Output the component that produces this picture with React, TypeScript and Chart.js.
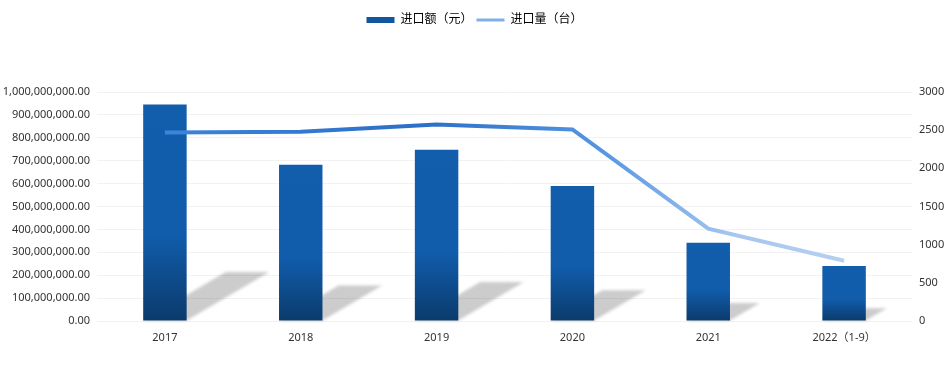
import React, { useEffect, useRef } from "react";
import { Chart, registerables } from "chart.js";

Chart.register(...registerables);

const categories = ["2017", "2018", "2019", "2020", "2021", "2022（1-9）"];
const importValue = [945000000, 682000000, 748000000, 590000000, 342000000, 240000000];
const importQty = [2470, 2480, 2575, 2510, 1210, 790];
const valueLabel = "进口额（元）";
const qtyLabel = "进口量（台）";

const FONT = "'Noto Sans', 'Noto Sans CJK SC', sans-serif";

const shadowPlugin = {
  id: "barShadow",
  beforeDatasetsDraw(chart: any) {
    const meta = chart.getDatasetMeta(0);
    const ctx = chart.ctx;
    ctx.save();
    ctx.filter = "blur(1.5px)";
    ctx.fillStyle = "rgba(0,0,0,0.2)";
    meta.data.forEach((el: any) => {
      const { x, y, base, width } = el.getProps(["x", "y", "base", "width"], true);
      const h = base - y;
      const sh = h * 0.225;
      const shift = sh * 1.7;
      const l = x - width / 2;
      const r = x + width / 2;
      ctx.beginPath();
      ctx.moveTo(l, base);
      ctx.lineTo(r, base);
      ctx.lineTo(r + shift, base - sh);
      ctx.lineTo(l + shift, base - sh);
      ctx.closePath();
      ctx.fill();
    });
    ctx.restore();
  },
};

const legendSpacePlugin = {
  id: "legendSpace",
  beforeInit(chart: any) {
    const legend = chart.legend;
    if (!legend) return;
    const orig = legend.fit;
    legend.fit = function () {
      orig.call(this);
      this.height = 82;
    };
  },
};

export default function App() {
  const ref = useRef<HTMLCanvasElement>(null);
  useEffect(() => {
    const canvas = ref.current!;
    const lineGrad = (chart: any) => {
      const ca = chart.chartArea;
      if (!ca) return "#3d86dc";
      const g = chart.ctx.createLinearGradient(ca.left, 0, ca.right, 0);
      g.addColorStop(0, "#3f8be0");
      g.addColorStop(0.4, "#2c6fc6");
      g.addColorStop(0.62, "#5596e3");
      g.addColorStop(0.78, "#a6c6ef");
      g.addColorStop(1, "#bfd5f2");
      return g;
    };
    const chart = new Chart(canvas, {
      type: "bar",
      data: {
        labels: categories,
        datasets: [
          {
            type: "bar",
            label: valueLabel,
            data: importValue,
            yAxisID: "y",
            order: 1,
            categoryPercentage: 0.8,
            barPercentage: 0.4,
            backgroundColor: (c: any) => {
              const chart = c.chart;
              const ca = chart.chartArea;
              if (!ca || c.dataIndex === undefined) return "#115eac";
              const ys = chart.scales.y;
              const top = ys.getPixelForValue(importValue[c.dataIndex]);
              const base = ys.getPixelForValue(0);
              const g = chart.ctx.createLinearGradient(0, top, 0, base);
              g.addColorStop(0, "#115eac");
              g.addColorStop(0.6, "#115cab");
              g.addColorStop(1, "#0b3b6c");
              return g;
            },
          } as any,
          {
            type: "line",
            label: qtyLabel,
            data: importQty,
            yAxisID: "y1",
            order: 0,
            borderWidth: 4,
            pointRadius: 0,
            tension: 0,
            borderColor: (c: any) => lineGrad(c.chart),
            backgroundColor: "transparent",
          } as any,
        ],
      },
      options: {
        animation: false,
        responsive: true,
        maintainAspectRatio: false,
        layout: { padding: { top: 10 } },
        plugins: {
          tooltip: { enabled: false },
          legend: {
            position: "top",
            labels: {
              usePointStyle: true,
              pointStyleWidth: 28,
              boxHeight: 6,
              padding: 4,
              color: "#333",
              font: { family: FONT, size: 12 },
              generateLabels: () => [
                {
                  text: valueLabel,
                  pointStyle: "rect",
                  fillStyle: "#0f579f",
                  strokeStyle: "#0f579f",
                  lineWidth: 0,
                  datasetIndex: 0,
                  hidden: false,
                } as any,
                {
                  text: qtyLabel,
                  pointStyle: "line",
                  fillStyle: "#7eb0ea",
                  strokeStyle: "#7eb0ea",
                  lineWidth: 3,
                  datasetIndex: 1,
                  hidden: false,
                } as any,
              ],
            },
          },
        },
        scales: {
          x: {
            grid: { display: false },
            border: { display: false },
            ticks: {
              color: "#333",
              font: { family: FONT, size: 11 },
              padding: 2,
              maxRotation: 0,
            },
            afterFit: (s: any) => {
              s.height = 70;
            },
          },
          y: {
            position: "left",
            min: 0,
            max: 1000000000,
            grid: { color: "#f2f2f2", drawTicks: false },
            border: { display: false },
            ticks: {
              stepSize: 100000000,
              padding: 7,
              color: "#333",
              font: { family: FONT, size: 11 },
              callback: (v: any) =>
                Number(v).toLocaleString("en-US", {
                  minimumFractionDigits: 2,
                  maximumFractionDigits: 2,
                }),
            },
            afterFit: (s: any) => {
              s.width = 97;
            },
          },
          y1: {
            position: "right",
            min: 0,
            max: 3000,
            grid: { display: false, drawTicks: false },
            border: { display: false },
            ticks: {
              stepSize: 500,
              padding: 7,
              color: "#333",
              font: { family: FONT, size: 11 },
              callback: (v: any) => String(v),
            },
            afterFit: (s: any) => {
              s.width = 37;
            },
          },
        },
      },
      plugins: [shadowPlugin, legendSpacePlugin],
    });
    return () => chart.destroy();
  }, []);
  return (
    <div style={{ position: "fixed", left: 0, top: 0, width: 949, height: 391 }}>
      <canvas ref={ref} />
    </div>
  );
}
